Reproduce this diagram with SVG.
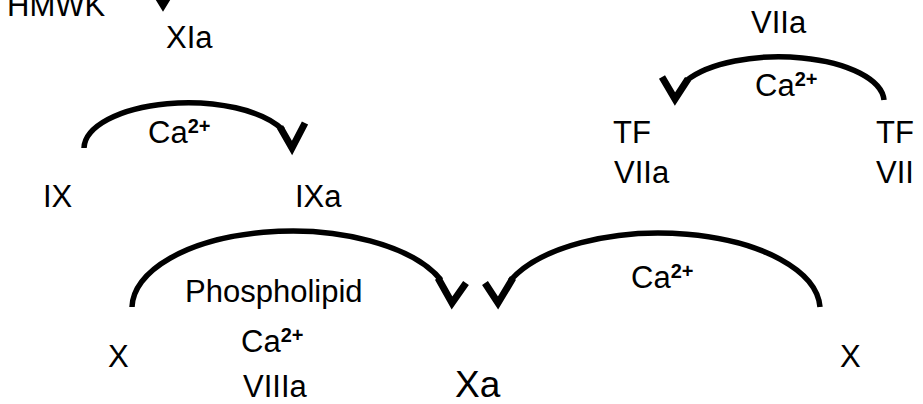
<svg xmlns="http://www.w3.org/2000/svg" width="923" height="404" viewBox="0 0 923 404">
<style>
text{font-family:"Liberation Sans",Arial,sans-serif;font-size:31px;fill:#000}
.sup{font-size:20px;font-weight:bold}
.big{font-size:37px}
.arc{fill:none;stroke:#000;stroke-width:5.5}
.head{fill:none;stroke:#000;stroke-width:7;stroke-linejoin:miter;stroke-miterlimit:10}
</style>
<rect width="923" height="404" fill="#fff"/>
<g id="connectors">
<polyline class="head" points="155,-8 163,5 171,-8"/>
<path class="arc" d="M84,148 A104,46 0 0 1 283,130"/>
<polyline class="head" points="280,127 292,148 305,123"/>
<path class="arc" d="M884,100 A105,45 0 0 0 686,81"/>
<polyline class="head" points="688,79 675,99 662,77"/>
<path class="arc" d="M132,307 A160,77 0 0 1 441,280"/>
<polyline class="head" points="438,278 452,303 466,283"/>
<path class="arc" d="M820,307 A161,77 0 0 0 510,281"/>
<polyline class="head" points="513,278 498,303 485,283"/>
</g>
<g id="HMWK"><text x="7" y="16">HMWK</text></g>
<g id="XIa"><text x="166" y="48">XIa</text></g>
<g id="ca1"><text x="148" y="143">Ca<tspan class="sup" dy="-10">2+</tspan></text></g>
<g id="IX"><text x="43" y="207">IX</text></g>
<g id="IXa"><text x="295" y="207">IXa</text></g>
<g id="VIIa-top"><text x="751" y="33">VIIa</text></g>
<g id="ca2"><text x="755" y="96">Ca<tspan class="sup" dy="-10">2+</tspan></text></g>
<g id="TF-VIIa"><text x="613" y="143">TF</text><text x="614" y="183">VIIa</text></g>
<g id="TF-VII"><text x="876" y="143">TF</text><text x="876" y="183">VII</text></g>
<g id="cofactors"><text x="185" y="302">Phospholipid</text><text x="241" y="352">Ca<tspan class="sup" dy="-10">2+</tspan></text><text x="243" y="397">VIIIa</text></g>
<g id="X-left"><text x="108" y="367">X</text></g>
<g id="Xa"><text class="big" x="455" y="397">Xa</text></g>
<g id="ca3"><text x="631" y="288">Ca<tspan class="sup" dy="-10">2+</tspan></text></g>
<g id="X-right"><text x="840" y="367">X</text></g>
</svg>
